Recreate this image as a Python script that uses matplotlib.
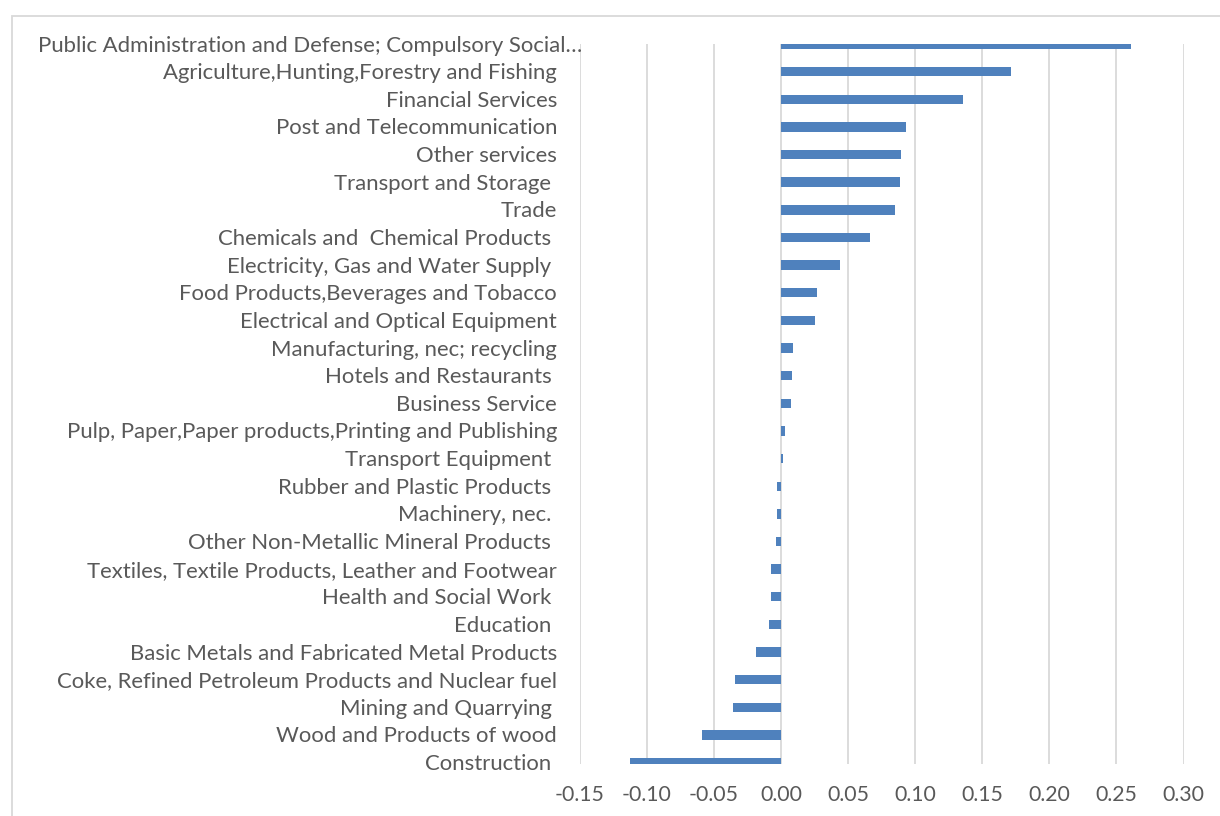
import matplotlib.pyplot as plt
import numpy as np
from matplotlib.patches import Rectangle
from matplotlib.transforms import ScaledTranslation

plt.rcParams['font.family'] = ['Lato', 'DejaVu Sans']

# sectors, top to bottom
sectors = [
    "Public Administration and Defense; Compulsory Social…",
    "Agriculture,Hunting,Forestry and Fishing",
    "Financial Services",
    "Post and Telecommunication",
    "Other services",
    "Transport and Storage ",
    "Trade",
    "Chemicals and  Chemical Products ",
    "Electricity, Gas and Water Supply ",
    "Food Products,Beverages and Tobacco",
    "Electrical and Optical Equipment",
    "Manufacturing, nec; recycling",
    "Hotels and Restaurants ",
    "Business Service",
    "Pulp, Paper,Paper products,Printing and Publishing",
    "Transport Equipment ",
    "Rubber and Plastic Products ",
    "Machinery, nec. ",
    "Other Non-Metallic Mineral Products ",
    "Textiles, Textile Products, Leather and Footwear",
    "Health and Social Work ",
    "Education ",
    "Basic Metals and Fabricated Metal Products",
    "Coke, Refined Petroleum Products and Nuclear fuel",
    "Mining and Quarrying ",
    "Wood and Products of wood",
    "Construction ",
]
values = [
    0.261, 0.1715, 0.136, 0.093, 0.0897, 0.0888, 0.085, 0.0665, 0.0437,
    0.0267, 0.025, 0.0087, 0.0082, 0.0072, 0.0032, 0.0018, -0.003, -0.003,
    -0.0035, -0.0072, -0.0075, -0.009, -0.0188, -0.0345, -0.0354, -0.0586,
    -0.1128,
]
xticks = np.arange(-0.15, 0.3001, 0.05)

BAR = "#4F81BD"
GRID = "#D9D9D9"
TEXT = "#595959"

W, H = 1220, 816
fig = plt.figure(figsize=(W / 100, H / 100), dpi=100)
ax = fig.add_axes([579.7 / W, 1 - 764 / H, (1183.5 - 579.7) / W, (764 - 44) / H])

y = np.arange(len(sectors))
ax.barh(y, values, height=0.34, color=BAR, zorder=3)

ax.set_xlim(-0.15, 0.30)
ax.set_ylim(26.05, 0.0)
ax.set_xticks(xticks)
ax.set_xticklabels([f"{t:.2f}" for t in xticks])
ax.set_yticks([])
ax.tick_params(axis='x', length=0, pad=15, labelsize=15.3, labelcolor=TEXT)
for t in xticks:
    ax.axvline(t, color=GRID, lw=1.3, zorder=1)
for s in ax.spines.values():
    s.set_visible(False)

# category labels sit left of the plot area
lab_tr = ax.get_yaxis_transform() + ScaledTranslation(-22.7 / 100, -1.5 / 100, fig.dpi_scale_trans)
for i, name in enumerate(sectors):
    tr = lab_tr
    if i == 0:
        tr = lab_tr + ScaledTranslation(25 / 100, 0, fig.dpi_scale_trans)
    ax.text(0, i, name, transform=tr, ha='right', va='center',
            fontsize=15.9, color=TEXT, clip_on=False)

# chart area border
fig.patches.append(Rectangle((12.5 / W, -0.05), 1.1, 1 - 15.5 / H + 0.05,
                             transform=fig.transFigure, fill=False,
                             edgecolor=GRID, lw=1.3))

fig.savefig("out.png", dpi=100)
